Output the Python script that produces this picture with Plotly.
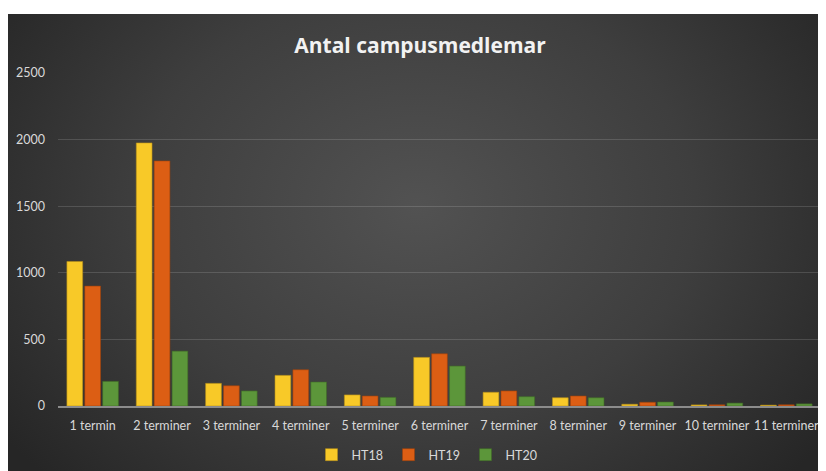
import base64
import plotly.graph_objects as go

categories = ["1 termin", "2 terminer", "3 terminer", "4 terminer", "5 terminer",
              "6 terminer", "7 terminer", "8 terminer", "9 terminer", "10 terminer", "11 terminer"]
ht18 = [1085, 1975, 170, 230, 83, 365, 103, 62, 13, 8, 6]
ht19 = [900, 1840, 152, 272, 75, 392, 113, 75, 28, 9, 9]
ht20 = [185, 412, 113, 180, 65, 300, 70, 62, 30, 22, 16]
series_names = ["HT18", "HT19", "HT20"]
colors = ["#F8C928", "#DC5E14", "#5C963A"]
line_colors = ["#B8901A", "#9E420C", "#3F6A27"]
y_ticks = [0, 500, 1000, 1500, 2000, 2500]

# page body adds an 8px offset, so the figure is 8px smaller than the window
W, H = 818, 463
L, R, T, B = 50, 5, 65, 65
pw, ph = W - L - R, H - T - B
TOP_WHITE = 6

svg = (
    '<svg xmlns="http://www.w3.org/2000/svg" width="818" height="457" viewBox="0 0 818 457" preserveAspectRatio="none">'
    '<defs><radialGradient id="g" cx="0.5" cy="0.42" r="0.62" gradientTransform="translate(0.5 0.42) scale(1 1.4) translate(-0.5 -0.42)">'
    '<stop offset="0" stop-color="#525252"/><stop offset="0.55" stop-color="#3e3e3e"/><stop offset="1" stop-color="#262626"/>'
    '</radialGradient></defs><rect width="818" height="457" fill="url(#g)"/></svg>'
)
src = "data:image/svg+xml;base64," + base64.b64encode(svg.encode()).decode()

fig = go.Figure()
for name, vals, c, lc in zip(series_names, [ht18, ht19, ht20], colors, line_colors):
    fig.add_trace(go.Bar(x=categories, y=vals, name=name,
                         marker=dict(color=c, line=dict(color=lc, width=0.6))))

x0 = (0 - L) / pw
x1 = (W - L) / pw
ytop = (H - B - TOP_WHITE) / ph
ybot = (H - B - H) / ph

fig.update_layout(
    width=W, height=H,
    margin=dict(l=L, r=R, t=T, b=B, autoexpand=False),
    paper_bgcolor="white",
    plot_bgcolor="rgba(0,0,0,0)",
    barmode="group",
    bargap=0.226,
    bargroupgap=0.12,
    font=dict(family="Lato, Open Sans, sans-serif", color="#d9d9d9", size=13),
    title=dict(text="<b>Antal campusmedlemar</b>", x=412 / W, xanchor="center",
               y=1 - 38 / H, yanchor="middle", yref="container",
               font=dict(family="Open Sans", size=21, color="#f2f2f2")),
    images=[dict(source=src, xref="paper", yref="paper", x=x0, y=ytop,
                 sizex=x1 - x0, sizey=ytop - ybot, sizing="stretch",
                 xanchor="left", yanchor="top", layer="below")],
    legend=dict(orientation="h", x=419 / W, xanchor="center", xref="container",
                y=1 - 447 / H, yanchor="middle", yref="container",
                font=dict(size=12.5, color="#d9d9d9"), itemwidth=30,
                entrywidth=32, entrywidthmode="pixels",
                bgcolor="rgba(0,0,0,0)"),
    xaxis=dict(showline=True, linecolor="#8c8c8c", linewidth=1.5,
               ticks="", tickangle=0, automargin=False, ticklabelstandoff=7,
               tickfont=dict(size=12.5, color="#d9d9d9")),
    yaxis=dict(range=[0, 2500], tickvals=y_ticks, showgrid=True,
               gridcolor="rgba(255,255,255,0.14)", gridwidth=1, zeroline=False,
               ticks="", ticklabelstandoff=12, automargin=False,
               tickfont=dict(size=12.5, color="#d9d9d9")),
)
fig.write_html("out.html")
